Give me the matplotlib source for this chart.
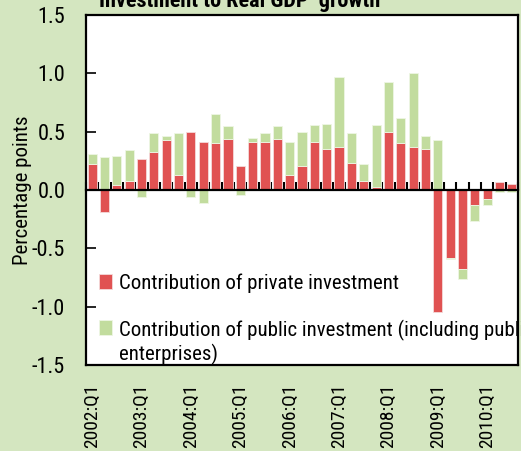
import matplotlib.pyplot as plt
import numpy as np
from matplotlib import font_manager

# quarters 2002:Q1 .. 2010:Q3
quarters = [f"{y}:Q{q}" for y in range(2002, 2011) for q in range(1, 5)][:35]

private = [0.22, -0.19, 0.04, 0.075, 0.27, 0.325, 0.43, 0.13, 0.50, 0.41,
           0.40, 0.44, 0.21, 0.41, 0.41, 0.44, 0.13, 0.21, 0.41, 0.35,
           0.37, 0.235, 0.075, 0.03, 0.50, 0.40, 0.37, 0.35, -1.05, -0.58,
           -0.675, -0.13, -0.08, 0.065, 0.05]
public = [0.09, 0.28, 0.25, 0.27, -0.06, 0.16, 0.03, 0.36, -0.06, -0.115,
          0.25, 0.105, -0.04, 0.035, 0.08, 0.105, 0.28, 0.29, 0.15, 0.22,
          0.60, 0.25, 0.145, 0.53, 0.43, 0.22, 0.63, 0.11, 0.43, -0.015,
          -0.085, -0.135, -0.045, -0.02, -0.02]

label_private = "Contribution of private investment"
label_public = "Contribution of public investment (including public\nenterprises)"

BG = "#d4e6c0"
RED = "#e05252"
GREEN = "#c2dc9e"

names = {f.name for f in font_manager.fontManager.ttflist}
fam = [f for f in ["Roboto Condensed", "Archivo Narrow", "PT Sans Narrow"] if f in names]
plt.rcParams["font.family"] = fam + ["DejaVu Sans"]
plt.rcParams["font.size"] = 15

fig = plt.figure(figsize=(5.21, 4.51), dpi=100, facecolor=BG)
ax = fig.add_axes([0.165, 0.1907, 0.8294, 0.776])

x = np.arange(len(quarters))
priv = np.array(private)
pub = np.array(public)
# stack public on the private bar when both share a sign
pub_base = np.where(np.sign(pub) == np.sign(priv), priv, 0)

ax.bar(x, priv, width=0.74, color=RED, edgecolor="#f4dada", linewidth=0.6,
       label=label_private, zorder=2)
ax.bar(x, pub, bottom=pub_base, width=0.74, color=GREEN, edgecolor="#eef6e4",
       linewidth=0.6, label=label_public, zorder=2)

ax.set_xlim(-0.5, len(quarters) - 0.5)
ax.set_ylim(-1.5, 1.5)
yt = np.arange(-1.5, 1.51, 0.5)
ax.set_yticks(yt)
ax.set_yticklabels([f"{v:.1f}" for v in yt], fontsize=16)
ax.tick_params(axis="y", direction="in", length=7, width=1.2, pad=15)
ax.set_ylabel("Percentage points", fontsize=15)
ax.yaxis.set_label_coords(-0.125, 0.5)

# x axis crossing at zero, ticks between quarters
ax.spines["bottom"].set_position(("data", 0))
ax.spines["bottom"].set_linewidth(1.6)
ax.spines["bottom"].set_zorder(3)
ax.set_xticks(np.arange(-0.5, len(quarters), 1))
ax.set_xticklabels([])
ax.tick_params(axis="x", direction="in", length=6, width=1.5)
for s in ["left", "top", "right"]:
    ax.spines[s].set_linewidth(1.6)

# frame bottom with year labels
sec = ax.secondary_xaxis(0.0)
sec.spines["bottom"].set_linewidth(1.6)
sec.set_xticks(x[::4])
sec.set_xticklabels(quarters[::4], rotation=90, va="top", ha="center", fontsize=14)
sec.tick_params(length=0, pad=13)

leg = ax.legend(loc="lower left", bbox_to_anchor=(0.007, -0.03), frameon=False,
                handlelength=0.6, handleheight=0.7, handletextpad=0.35,
                labelspacing=1.3, borderaxespad=0.2, borderpad=0.3)
# keep the green key level with the first line of its two-line label
h = leg.legend_handles[1]
h.set_y(h.get_y() + 11)

fig.text(0.19, 0.984, "Investment to Real GDP  growth", fontweight="bold",
         va="baseline", ha="left", fontsize=16)

fig.savefig("out.png", dpi=100, facecolor=BG)
